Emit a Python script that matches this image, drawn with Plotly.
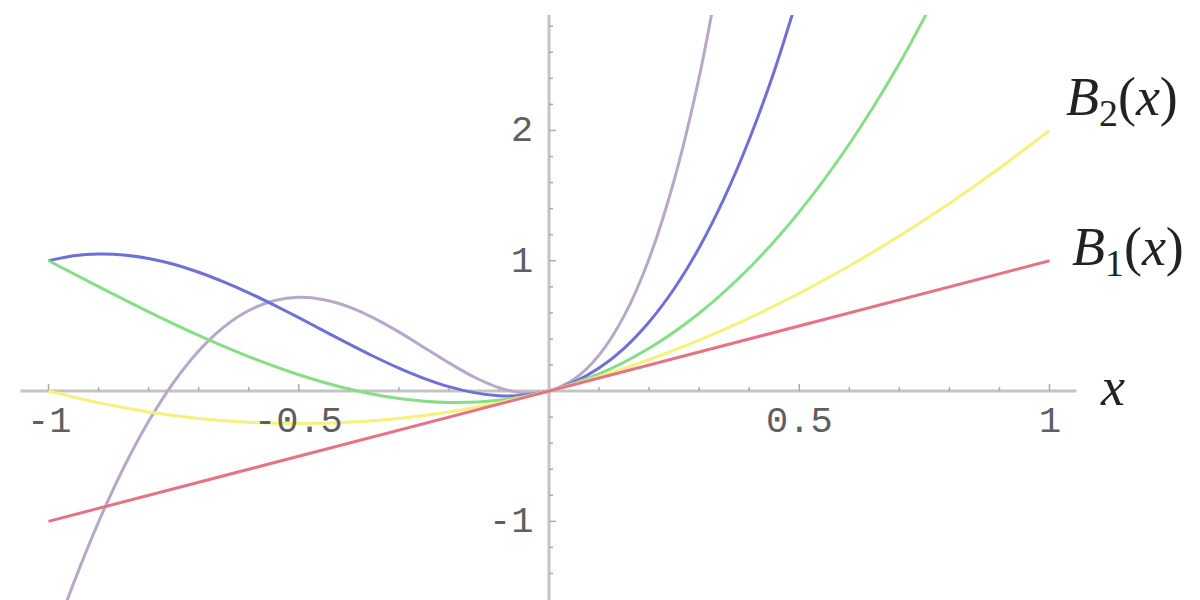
import plotly.graph_objects as go

# ---------------- data ----------------
b1_x = [-1.0, 1.0]
b1_y = [-1.0, 1.0]

b2_x = [-1.0, -0.9, -0.8, -0.7, -0.6, -0.5, -0.4, -0.3, -0.2, -0.1, 0.0,
        0.1, 0.2, 0.3, 0.4, 0.5, 0.6, 0.7, 0.8, 0.9, 1.0]
b2_y = [0.0, -0.09, -0.16, -0.21, -0.24, -0.25, -0.24, -0.21, -0.16, -0.09, 0.0,
        0.11, 0.24, 0.39, 0.56, 0.75, 0.96, 1.19, 1.44, 1.71, 2.0]

b3_x = [-1.0, -0.9, -0.8, -0.7, -0.6, -0.5, -0.4, -0.3, -0.2, -0.1, 0.0,
        0.1, 0.2, 0.3, 0.4, 0.5, 0.6, 0.7, 0.8]
b3_y = [1.0, 0.801, 0.608, 0.427, 0.264, 0.125, 0.016, -0.057, -0.088, -0.071, 0.0,
        0.131, 0.328, 0.597, 0.944, 1.375, 1.896, 2.513, 3.232]

b4_x = [-1.0, -0.95, -0.9, -0.85, -0.8, -0.75, -0.7, -0.65, -0.6, -0.55, -0.5,
        -0.45, -0.4, -0.35, -0.3, -0.25, -0.2, -0.15, -0.1, -0.05, 0.0,
        0.05, 0.1, 0.15, 0.2, 0.25, 0.3, 0.35, 0.4, 0.45, 0.5]
b4_y = [1.0, 1.038, 1.052, 1.045, 1.018, 0.973, 0.912, 0.838, 0.754, 0.661, 0.563,
        0.462, 0.362, 0.265, 0.176, 0.098, 0.034, -0.012, -0.036, -0.033, 0.0,
        0.068, 0.176, 0.328, 0.530, 0.785, 1.100, 1.480, 1.930, 2.455, 3.063]

b5_x = [-1.0, -0.95, -0.9, -0.85, -0.8, -0.75, -0.7, -0.65, -0.6, -0.55, -0.5,
        -0.45, -0.4, -0.35, -0.3, -0.25, -0.2, -0.15, -0.1, -0.05, 0.0,
        0.05, 0.1, 0.15, 0.2, 0.25, 0.3, 0.35]
b5_y = [-2.0, -1.476, -1.004, -0.589, -0.232, 0.067, 0.308, 0.491, 0.618, 0.693, 0.719,
        0.701, 0.646, 0.560, 0.454, 0.335, 0.216, 0.108, 0.026, -0.016, 0.0,
        0.091, 0.276, 0.577, 1.016, 1.618, 2.408, 3.415]

x_major_ticks = [-1, -0.5, 0.5, 1]
x_major_labels = ["-1", "-0.5", "0.5", "1"]
x_minor_ticks = [-0.9, -0.8, -0.7, -0.6, -0.4, -0.3, -0.2, -0.1,
                 0.1, 0.2, 0.3, 0.4, 0.6, 0.7, 0.8, 0.9]
y_major_ticks = [-1, 1, 2]
y_major_labels = ["-1", "1", "2"]
y_minor_ticks = [-1.4, -1.2, -0.8, -0.6, -0.4, -0.2, 0.2, 0.4, 0.6, 0.8,
                 1.2, 1.4, 1.6, 1.8, 2.2, 2.4, 2.6, 2.8]

curve_labels = ["<i>B</i><sub>1</sub>(<i>x</i>)", "<i>B</i><sub>2</sub>(<i>x</i>)"]

# ---------------- styles ----------------
# (the page body adds an 8px offset; ranges compensate for it)
X_RANGE = [-1.081, 1.3167]
Y_RANGE = [-1.665, 2.886]
Y_DOMAIN = [0, 0.98833]
AXIS_COLOR = "#c4c4c4"
TICK_FONT = dict(family="Liberation Mono, Courier New, monospace", size=37, color="#5f5f5f")
LABEL_FONT = dict(family="Liberation Serif, Times New Roman, serif", size=54, color="#222222")

fig = go.Figure()

series = [
    (b5_x, b5_y, "#b8a8c8"),
    (b4_x, b4_y, "#6f6fd8"),
    (b3_x, b3_y, "#86df86"),
    (b2_x, b2_y, "#f4f27c"),
    (b1_x, b1_y, "#e67286"),
]
for xs, ys, col in series:
    fig.add_trace(go.Scatter(x=xs, y=ys, mode="lines",
                             line=dict(color=col, width=3, shape="spline", smoothing=0.8),
                             hoverinfo="skip", showlegend=False))

shapes = []
# axes
shapes.append(dict(type="line", xref="x", yref="y", x0=-1.056, x1=1.054, y0=0, y1=0,
                   line=dict(color=AXIS_COLOR, width=3), layer="below"))
shapes.append(dict(type="line", xref="x", yref="y", x0=0, x1=0, y0=Y_RANGE[0], y1=Y_RANGE[1],
                   line=dict(color=AXIS_COLOR, width=3), layer="below"))
# ticks on x axis (upward)
for t, ln in [(t, 7) for t in x_major_ticks] + [(t, 4) for t in x_minor_ticks]:
    shapes.append(dict(type="line", xref="x", yref="y", ysizemode="pixel", yanchor=0,
                       x0=t, x1=t, y0=0, y1=ln, line=dict(color="#aaaaaa", width=1.5),
                       layer="below"))
# ticks on y axis (rightward)
for t, ln in [(t, 7) for t in y_major_ticks] + [(t, 4) for t in y_minor_ticks]:
    shapes.append(dict(type="line", xref="x", yref="y", xsizemode="pixel", xanchor=0,
                       x0=0, x1=ln, y0=t, y1=t, line=dict(color="#aaaaaa", width=1.5),
                       layer="below"))

annotations = []
for t, lab in zip(x_major_ticks, x_major_labels):
    annotations.append(dict(x=t, y=0, xref="x", yref="y", text=lab, showarrow=False,
                            xanchor="center", yanchor="middle", yshift=-31, font=TICK_FONT))
for t, lab in zip(y_major_ticks, y_major_labels):
    annotations.append(dict(x=0, y=t, xref="x", yref="y", text=lab, showarrow=False,
                            xanchor="right", yanchor="middle", xshift=-14, yshift=-1,
                            font=TICK_FONT))
# curve labels at the right ends
annotations.append(dict(x=b1_x[-1], y=b1_y[-1], xref="x", yref="y", text=curve_labels[0],
                        showarrow=False, xanchor="left", yanchor="middle",
                        xshift=20, yshift=10, font=LABEL_FONT))
annotations.append(dict(x=b2_x[-1], y=b2_y[-1], xref="x", yref="y", text=curve_labels[1],
                        showarrow=False, xanchor="left", yanchor="middle",
                        xshift=14, yshift=30, font=LABEL_FONT))
# axis label
annotations.append(dict(x=b1_x[-1], y=0, xref="x", yref="y", text="<i>x</i>",
                        showarrow=False, xanchor="center", yanchor="middle",
                        xshift=63, yshift=4, font=LABEL_FONT))

fig.update_layout(
    width=1200, height=600,
    margin=dict(l=0, r=0, t=0, b=0),
    paper_bgcolor="white", plot_bgcolor="white",
    xaxis=dict(range=X_RANGE, visible=False, domain=[0, 1]),
    yaxis=dict(range=Y_RANGE, visible=False, domain=Y_DOMAIN),
    shapes=shapes, annotations=annotations,
    showlegend=False,
)

fig.write_html("out.html")
